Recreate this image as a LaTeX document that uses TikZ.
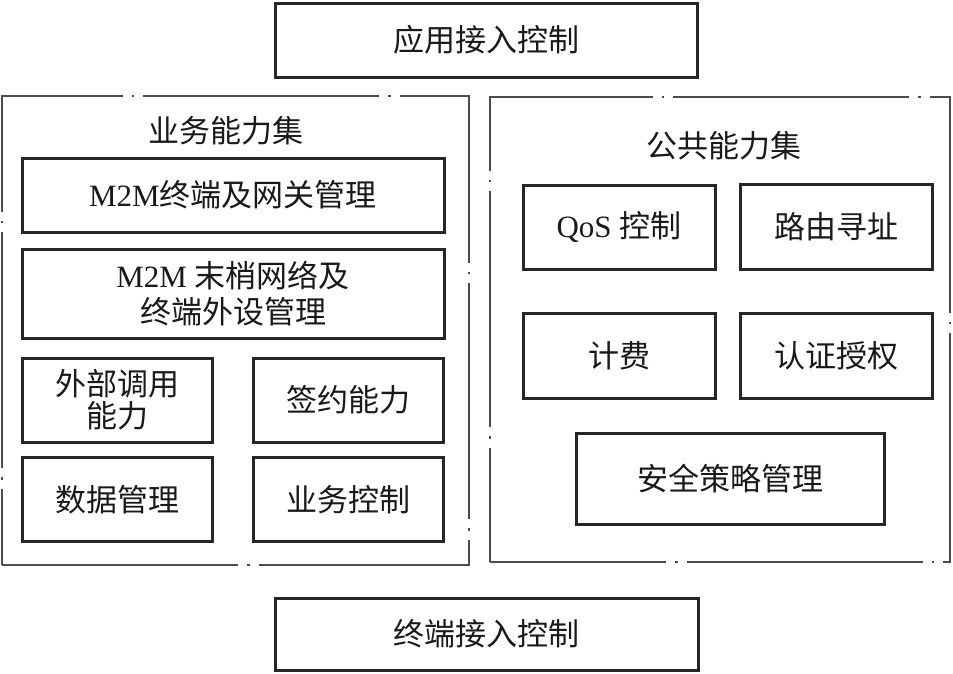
\documentclass[tikz,border=0pt]{standalone}
\usepackage{fontspec}
\setmainfont{Liberation Serif}
\newfontfamily\cjk{Noto Sans CJK SC}

\begin{document}
\begin{tikzpicture}[x=1pt, y=-1pt,
    unitbox/.style={draw=black!85, line width=3pt, inner sep=0pt, align=center,
      text=black!90, font=\fontsize{31}{36}\selectfont},
    groupbox/.style={draw=black!70, line width=2pt, inner sep=0pt,
      dash pattern=on 236pt off 9pt on 2.5pt off 9pt},
    grouptitle/.style={text=black!90, font=\fontsize{31}{36}\selectfont\cjk}]
  \useasboundingbox (0,0) rectangle (953,673);

  % access control layers
  \node[unitbox, minimum width=422pt, minimum height=74pt] (appctl) at (486,40) {\cjk 应用接入控制};
  \node[unitbox, minimum width=423pt, minimum height=72pt] (termctl) at (486.5,634) {\cjk 终端接入控制};

  % capability groups
  \node[groupbox, minimum width=467pt, minimum height=469pt] (bizset) at (235.5,330.5) {};
  \node[groupbox, minimum width=460pt, minimum height=465pt, dash phase=60pt] (pubset) at (720,329.5) {};
  \node[grouptitle] (biztitle) at (226,131) {业务能力集};
  \node[grouptitle] (pubtitle) at (724,146) {公共能力集};

  % business capabilities
  \node[unitbox, minimum width=422pt, minimum height=74pt] (gwmgmt) at (233,195) {M2M{\cjk 终端及网关管理}};
  \node[unitbox, minimum width=422pt, minimum height=89pt] (netmgmt) at (233,293.5)
    {M2M {\cjk 末梢网络及}\\[0pt]{\cjk 终端外设管理}};
  \foreach \n/\x/\y/\t in {extcall/117/400/{外部调用\\[-4pt]能力}, contract/348.5/400/{签约能力},
                           datamgmt/117/499.5/{数据管理}, bizctl/348.5/499.5/{业务控制}}
    \node[unitbox, minimum width=190pt, minimum height=84pt, font=\fontsize{31}{36}\selectfont\cjk] (\n) at (\x,\y) {\t};

  % public capabilities
  \node[unitbox, minimum width=192pt, minimum height=84pt] (qos) at (619,227) {QoS {\cjk 控制}};
  \foreach \n/\x/\y/\t in {routing/836/227/{路由寻址}, billing/619/355.5/{计费}, auth/836/355.5/{认证授权}}
    \node[unitbox, minimum width=192pt, minimum height=85pt, font=\fontsize{31}{36}\selectfont\cjk] (\n) at (\x,\y) {\t};
  \node[unitbox, minimum width=308pt, minimum height=91pt] (secpol) at (730,478.5) {\cjk 安全策略管理};
\end{tikzpicture}
\end{document}
